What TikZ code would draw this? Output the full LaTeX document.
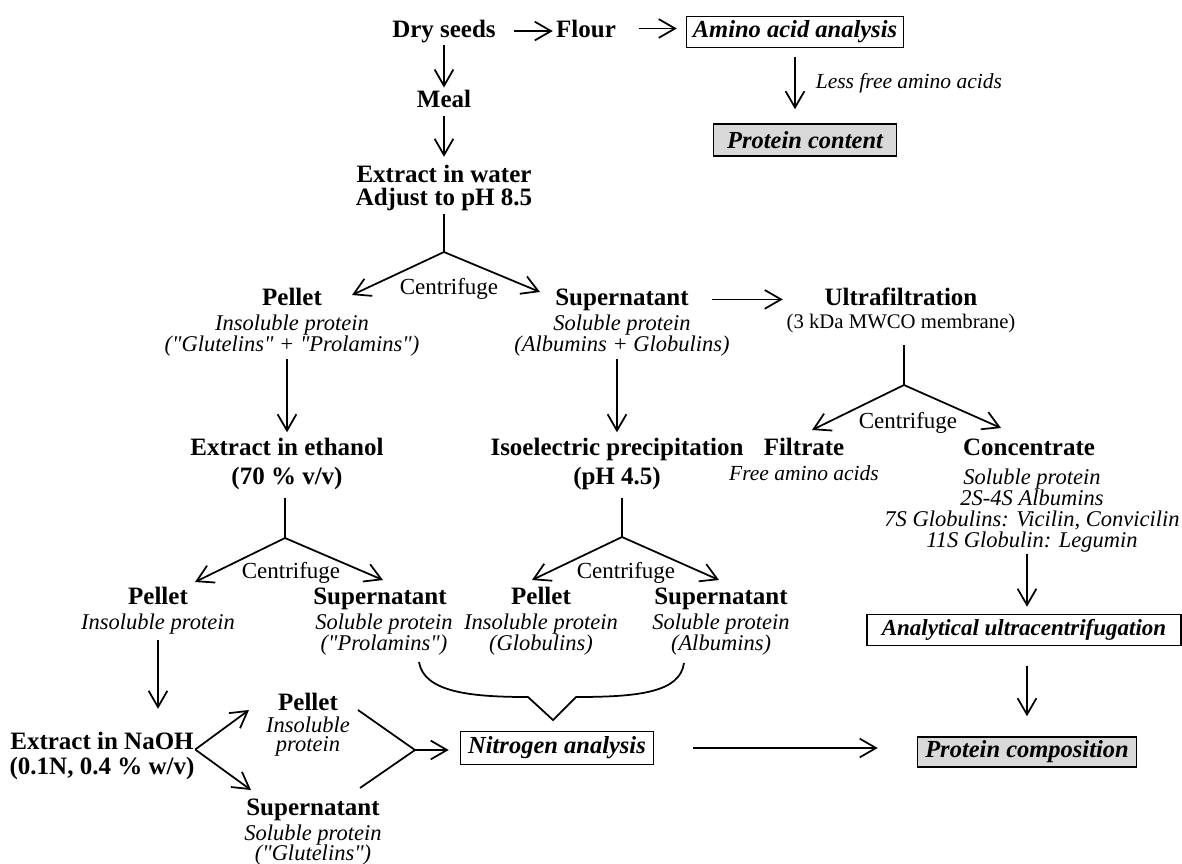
\documentclass[tikz,border=0pt]{standalone}
\usepackage{fontspec}
\setmainfont{Liberation Serif}[Ligatures=TeXOff]
\usetikzlibrary{positioning, arrows.meta}
\newcommand{\stk}[2][8.4pt]{\vtop{\baselineskip=#1\lineskiplimit=-\maxdimen\let\\\cr\halign{\hfil##\hfil\cr#2\crcr}}}
\tikzset{
	stage/.style={
		font=\fontsize{10}{11}\selectfont\bfseries,
		inner sep=0pt,
		anchor=base
	},
	detail/.style={
		font=\fontsize{9}{10}\selectfont\itshape,
		inner sep=0pt,
		anchor=base
	},
	spin/.style={
		font=\fontsize{9.2}{10}\selectfont,
		inner sep=0pt,
		anchor=base
	},
	result/.style={
		draw,
		line width=0.6pt,
		font=\fontsize{9.8}{11}\selectfont\bfseries\itshape,
		inner xsep=1pt,
		inner ysep=0pt
	},
	shaded/.style={
		result,
		fill=black!15
	}
}

\begin{document}
\begin{tikzpicture}[x=0.4pt, y=-0.4pt, line width=0.7pt, >={Straight Barb[length=6.5pt,width=7.5pt]}]
\useasboundingbox (0,0) rectangle (1182,863);

\node(dry)[stage] at (444,37) {Dry seeds};
\node(flour)[stage] at (586,37) {Flour};
\node(amino)[result, minimum width=86.8pt, minimum height=12.4pt] at (795,32) {Amino acid analysis};
\node(pcont)[shaded, minimum width=73.2pt, minimum height=12.8pt] at (805,140) {Protein content};
\node(less)[detail, anchor=base west, font=\fontsize{8.6}{10}\selectfont\itshape] at (815,88) {Less free amino acids};

\draw[->, shorten <=7pt, shorten >=1pt] (dry.east) -- (dry.east -| flour.west);
\draw[->, shorten <=8.8pt, shorten >=3.6pt] (flour.east) -- (flour.east -| amino.west);
\draw[->, shorten <=3.6pt, shorten >=5.6pt] (amino.south) -- (amino.south |- pcont.north);

\node(meal)[stage] at (444,107) {Meal};
\node(water)[stage] at (444,182) {\stk[9.2pt]{Extract in water\\Adjust to pH 8.5}};
\draw[->, shorten <=0.5pt, shorten >=0.5pt] (dry) -- (meal);
\draw[->, shorten <=3.2pt, shorten >=2.8pt] (meal) -- (water);

% first centrifugation
\coordinate(br1) at (444,252);
\coordinate(br1l) at (352,295);
\coordinate(br1r) at (540,292);
\draw[shorten <=1pt] (water) -- (br1);
\draw[->] (br1) -- (br1l);
\draw[->] (br1) -- (br1r);
\node(cen1)[spin] at (449,294) {Centrifuge};

\node(pel1)[stage] at (292,305) {Pellet};
\node(pel1d)[detail] at ([yshift=-10pt]pel1.base) {\stk{Insoluble protein\\("Glutelins" + "Prolamins")}};
\node(sup1)[stage] at (622,305) {Supernatant};
\node(sup1d)[detail] at ([yshift=-10pt]sup1.base) {\stk{Soluble protein\\(Albumins + Globulins)}};
\node(ultra)[stage] at (901,305) {Ultrafiltration};
\node(ultrad)[spin, font=\fontsize{8.3}{9}\selectfont] at ([yshift=-9.2pt]ultra.base) {(3 kDa MWCO membrane)};
\draw[->, shorten <=8.8pt, shorten >=16.4pt] (sup1.east) -- (sup1.east -| ultra.west);

% ultrafiltration
\coordinate(br2) at (904,385);
\coordinate(br2l) at (812,430);
\coordinate(br2r) at (1001,428);
\draw[shorten <=4.6pt] (br2 |- ultrad.south) -- (br2);
\draw[->] (br2) -- (br2l);
\draw[->] (br2) -- (br2r);
\node(cen2)[spin] at (908,428) {Centrifuge};
\node(filt)[stage] at (804,455) {Filtrate};
\node(filtd)[detail, font=\fontsize{8.6}{10}\selectfont\itshape] at ([yshift=-10pt]filt.base) {Free amino acids};
\node(conc)[stage] at (1029,455) {Concentrate};
\node(concd)[detail] at ([yshift=-11.6pt]1032,455) {\stk{Soluble protein\\2S-4S Albumins\\7S Globulins: Vicilin, Convicilin\\11S Globulin: Legumin}};

\node(anal)[result, minimum width=125.6pt, minimum height=12.4pt, font=\fontsize{9.2}{11}\selectfont\bfseries\itshape] at (1024,630) {Analytical ultracentrifugation};
\node(pcomp)[shaded, minimum width=87.6pt, minimum height=12pt] at (1027,752) {Protein composition};
\draw[->, shorten <=0.6pt, shorten >=2.8pt] (pcomp |- concd.south) -- (pcomp |- anal.north);
\draw[->, shorten <=7.8pt, shorten >=8pt] (pcomp |- anal.south) -- (pcomp.north);

% ethanol and isoelectric steps
\node(eth)[stage] at (287,455) {\stk[11.6pt]{Extract in ethanol\\(70 \% v/v)}};
\node(iso)[stage] at (617,455) {\stk[11.6pt]{Isoelectric precipitation\\(pH 4.5)}};
\draw[->, shorten <=1pt, shorten >=1.8pt] (eth |- pel1d.south) -- (eth.north);
\draw[->, shorten <=1pt, shorten >=1.8pt] (iso |- sup1d.south) -- (iso.north);

\coordinate(br3) at (285,538);
\coordinate(br3l) at (195,582);
\coordinate(br3r) at (383,580);
\draw[shorten <=3pt] (br3 |- eth.south) -- (br3);
\draw[->] (br3) -- (br3l);
\draw[->] (br3) -- (br3r);
\node(cen3)[spin] at (291,578) {Centrifuge};

\coordinate(br4) at (622,537);
\coordinate(br4l) at (532,580);
\coordinate(br4r) at (719,580);
\draw[shorten <=3pt] (br4 |- iso.south) -- (br4);
\draw[->] (br4) -- (br4l);
\draw[->] (br4) -- (br4r);
\node(cen4)[spin] at (626,578) {Centrifuge};

\node(pel2)[stage] at (158,604) {Pellet};
\node(pel2d)[detail] at ([yshift=-10pt]pel2.base) {Insoluble protein};
\node(sup2)[stage] at (380,604) {Supernatant};
\node(sup2d)[detail] at ([yshift=-10pt]384,604) {\stk{Soluble protein\\("Prolamins")}};
\node(pel3)[stage] at (541,604) {Pellet};
\node(pel3d)[detail] at ([yshift=-10pt]pel3.base) {\stk{Insoluble protein\\(Globulins)}};
\node(sup3)[stage] at (721,604) {Supernatant};
\node(sup3d)[detail] at ([yshift=-10pt]sup3.base) {\stk{Soluble protein\\(Albumins)}};

\draw (419,662) .. controls (424,692) and (470,697) .. (528,697) -- (553,720) -- (576,697) .. controls (640,697) and (680,692) .. (684,663);

% alkaline extraction
\node(naoh)[stage] at (102,749) {\stk[10pt]{Extract in NaOH\\(0.1N, 0.4 \% w/v)}};
\draw[->, shorten <=2pt, shorten >=8.8pt] (pel2d.south) -- (pel2d.south |- naoh.north);

\coordinate(n4u) at (249,710);
\coordinate(n4d) at (251,790);
\draw[->] ([yshift=2.4pt]naoh.east) -- (n4u);
\draw[->] ([yshift=2.4pt]naoh.east) -- (n4d);

\node(pel4)[stage] at (308,710) {Pellet};
\node(pel4d)[detail] at ([yshift=-9pt]pel4.base) {\stk[7.6pt]{Insoluble\\protein}};
\node(sup4)[stage] at (313,815) {Supernatant};
\node(sup4d)[detail] at ([yshift=-10pt]sup4.base) {\stk[8pt]{Soluble protein\\("Glutelins")}};

\node(nitro)[result, minimum width=77.2pt, minimum height=13.2pt] at (557,748) {Nitrogen analysis};
\coordinate(m4u) at (358,710);
\coordinate(m4d) at (360,788);
\coordinate(mrg) at (415,750);
\draw (m4u) -- (mrg) -- (m4d);
\draw[->, shorten >=4.4pt] (mrg) -- (mrg -| nitro.west);
\draw[->, shorten <=15.6pt, shorten >=15.6pt] (nitro.east) -- (nitro.east -| pcomp.west);

\end{tikzpicture}
\end{document}
